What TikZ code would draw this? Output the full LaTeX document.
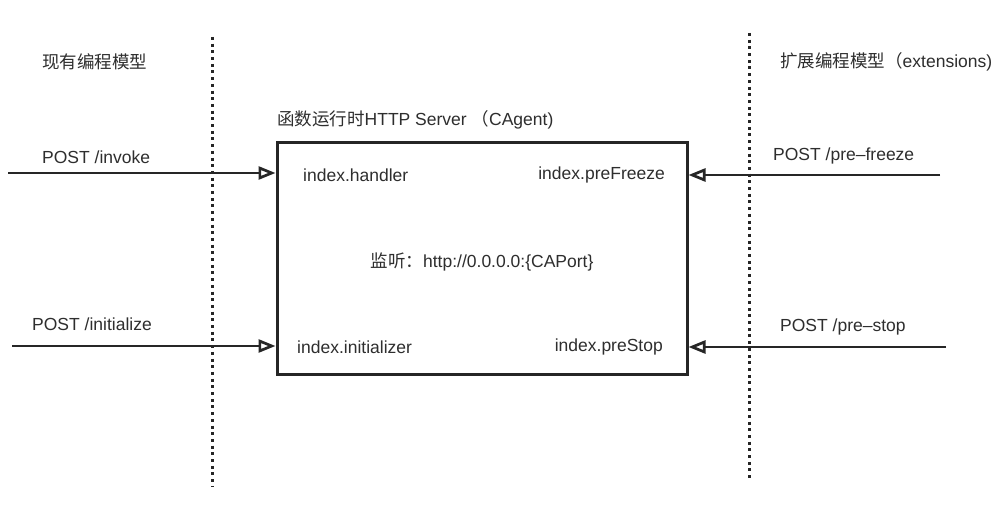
\documentclass[tikz,border=0pt]{standalone}
\usepackage{fontspec}
\setmainfont{Liberation Sans}
\newfontfamily\cjk{Noto Sans CJK SC}
\usetikzlibrary{arrows.meta}
\begin{document}
\begin{tikzpicture}[x=1pt,y=-1pt,
  lbl/.style={font=\fontsize{17.5}{19}\selectfont, inner sep=0pt, anchor=west, text=black!82},
  sep/.style={line width=3pt, dash pattern=on 3pt off 3.7pt, black!85},
  req/.style={line width=2.7pt, black!85, -{Triangle[open, length=17pt, width=13pt, line width=2.7pt]}},
  srvbox/.style={draw=black!85, line width=3pt, minimum width=410pt, minimum height=232pt, inner sep=0pt}]
\useasboundingbox[fill=white] (0,0) rectangle (1002,510);
% separators
\draw[sep] (212,37) -- (212,486);
\draw[sep] (749,33) -- (749,481);
% server box
\node[srvbox] (srv) at (482,259) {};
\node[lbl] (title) at (277,120) {{\cjk 函数运行时}HTTP Server {\cjk （}CAgent)};
\node[lbl] (h) at (303,175) {index.handler};
\node[lbl, anchor=east] (pf) at (665,175) {index.preFreeze};
\node[lbl] (i) at (297,347) {index.initializer};
\node[lbl, anchor=east] (ps) at (663,347) {index.preStop};
\node[lbl, anchor=center] (listen) at (482,262) {{\cjk 监听：}http://0.0.0.0:\{CAPort\}};
% headings
\node[lbl] (cur) at (42,62) {\cjk 现有编程模型};
\node[lbl] (ext) at (780,62) {{\cjk 扩展编程模型（}extensions)};
% request labels
\node[lbl] (linv) at (42,157) {POST /invoke};
\node[lbl] (lini) at (32,324) {POST /initialize};
\node[lbl] (lpf) at (773,156) {POST /pre–freeze};
\node[lbl] (lps) at (780,327) {POST /pre–stop};
% arrows
\coordinate (a1) at (8,173);
\coordinate (a2) at (12,346);
\coordinate (a3) at (940,175);
\coordinate (a4) at (946,347);
\draw[req] (a1) -- (srv.west |- a1);
\draw[req] (a2) -- (srv.west |- a2);
\draw[req] (a3) -- (srv.east |- a3);
\draw[req] (a4) -- (srv.east |- a4);
\end{tikzpicture}
\end{document}
